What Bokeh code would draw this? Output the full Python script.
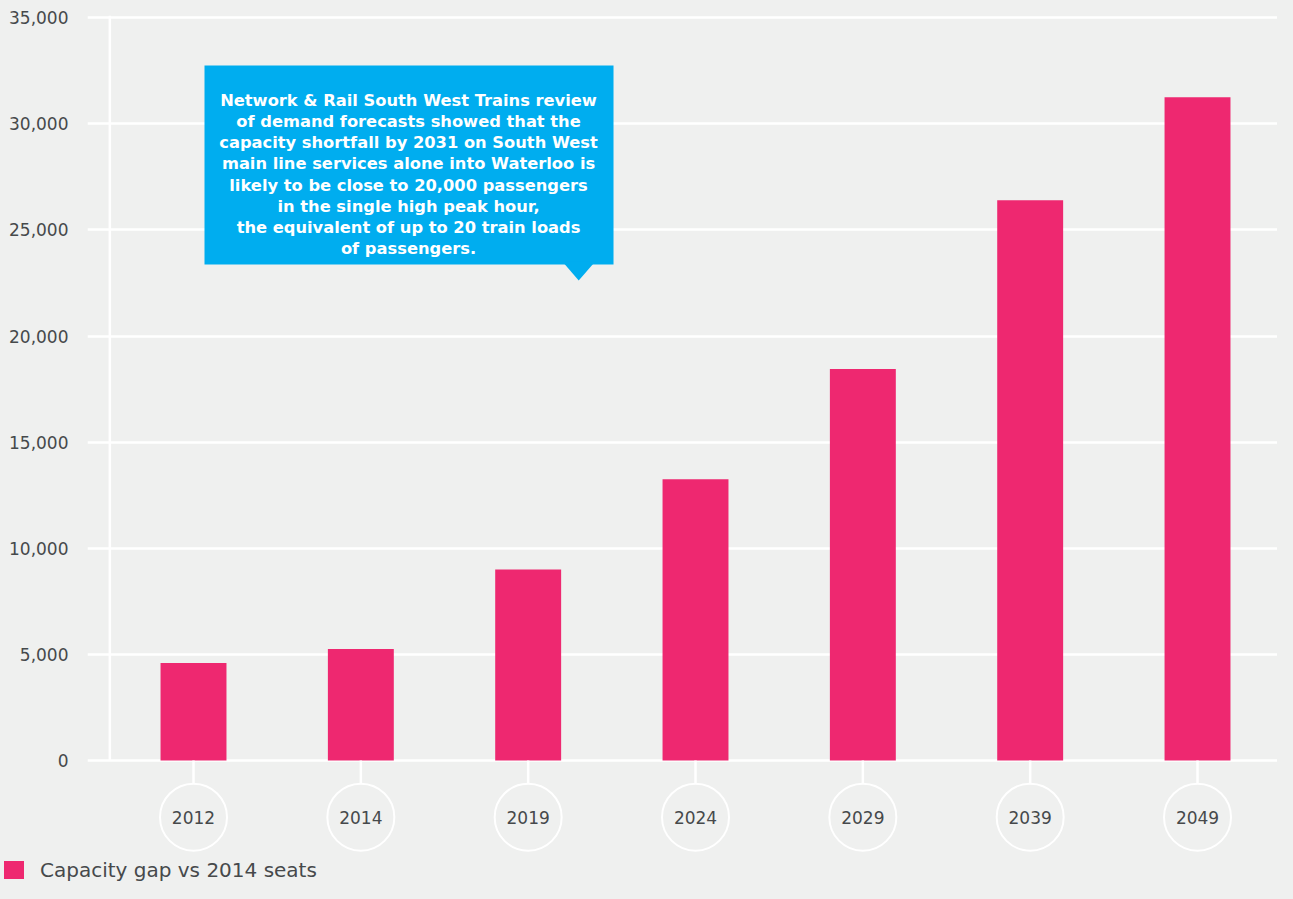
from bokeh.plotting import figure
from bokeh.layouts import column
from bokeh.models import Range1d, FixedTicker, NumeralTickFormatter, Div
from bokeh.core.properties import value
from bokeh.embed import file_html
from bokeh.resources import INLINE

# ---------------- data ----------------
years = ["2012", "2014", "2019", "2024", "2029", "2039", "2049"]
capacity_gap = [4600, 5250, 9000, 13250, 18450, 26400, 31250]
y_ticks = [0, 5000, 10000, 15000, 20000, 25000, 30000, 35000]
series_label = "Capacity gap vs 2014 seats"
callout_lines = [
    "Network & Rail South West Trains review",
    "of demand forecasts showed that the",
    "capacity shortfall by 2031 on South West",
    "main line services alone into Waterloo is",
    "likely to be close to 20,000 passengers",
    "in the single high peak hour,",
    "the equivalent of up to 20 train loads",
    "of passengers.",
]

# ---------------- style ----------------
BG = "#eff0ef"
PINK = "#ee2870"
BLUE = "#00adef"
TXT = "#46494b"
FONT = "DejaVu Sans"

idx = list(range(len(years)))

p = figure(width=1277, height=857, output_backend="svg", toolbar_location=None,
           x_range=Range1d(-0.6335, 6.478), y_range=Range1d(-4571, 35815),
           x_axis_location=None, min_border=0, min_border_left=87)
p.background_fill_color = BG
p.border_fill_color = BG
p.outline_line_color = None

ticker = FixedTicker(ticks=y_ticks)
p.yaxis.ticker = ticker
p.yaxis.formatter = NumeralTickFormatter(format="0,0")
p.yaxis.axis_line_color = None
p.yaxis.major_tick_line_color = None
p.yaxis.minor_tick_line_color = None
p.yaxis.major_tick_out = 0
p.yaxis.major_tick_in = 0
p.yaxis.major_label_standoff = 19
p.yaxis.major_label_text_font = FONT
p.yaxis.major_label_text_font_size = "17px"
p.yaxis.major_label_text_color = TXT

p.xgrid.visible = False
p.ygrid.ticker = ticker
p.ygrid.grid_line_color = "white"
p.ygrid.grid_line_width = 2.5

# vertical axis line
p.segment(x0=[-0.5], y0=[0], x1=[-0.5], y1=[35100], line_color="white", line_width=2.5)

# bars
p.vbar(x=idx, top=capacity_gap, bottom=0, width=0.394, fill_color=PINK, line_color=None)

# category markers (stems + circles + labels)
circle_y = -2672
circle_top = -1093
p.segment(x0=idx, y0=[0] * len(idx), x1=idx, y1=[circle_top] * len(idx),
          line_color="white", line_width=2.5)
p.scatter(x=idx, y=[circle_y] * len(idx), size=67, marker="circle",
          fill_color=None, line_color="white", line_width=2)
p.text(x=idx, y=[circle_y] * len(idx), text=years, text_align="center",
       text_baseline="middle", text_font=value(FONT), text_font_size="17px",
       text_color=TXT)

# callout
box_l, box_r, box_t, box_b = 0.0657, 2.510, 32752, 23374
p.quad(left=[box_l], right=[box_r], top=[box_t], bottom=[box_b], fill_color=BLUE, line_color=None)
p.patch(x=[2.203, 2.402, 2.302], y=[box_b + 150, box_b + 150, 22620], fill_color=BLUE, line_color=None)
first_baseline = 31102
line_step = 997
p.text(x=[1.285] * len(callout_lines),
       y=[first_baseline - i * line_step for i in range(len(callout_lines))],
       text=callout_lines, text_align="center", text_baseline="alphabetic",
       text_font=value(FONT), text_font_style="bold", text_font_size="16.3px",
       text_color="white")

# legend strip
legend_html = (
    '<div style="display:flex;align-items:center;height:26px;padding-left:4px;'
    "font-family:'DejaVu Sans';font-size:20px;color:%s;background:%s;white-space:nowrap\">"
    '<span style="display:inline-block;width:20px;height:18px;background:%s;margin-right:16px"></span>'
    '<span>%s</span></div>' % (TXT, BG, PINK, series_label)
)
legend_div = Div(text=legend_html, width=1277, height=26, margin=(0, 0, 0, 0))

layout = column(p, legend_div, spacing=0)
html = file_html(layout, INLINE)
html = html.replace("</head>", "<style>html, body { background-color: %s; }</style>\n</head>" % BG, 1)
open("out.html", "w").write(html)
